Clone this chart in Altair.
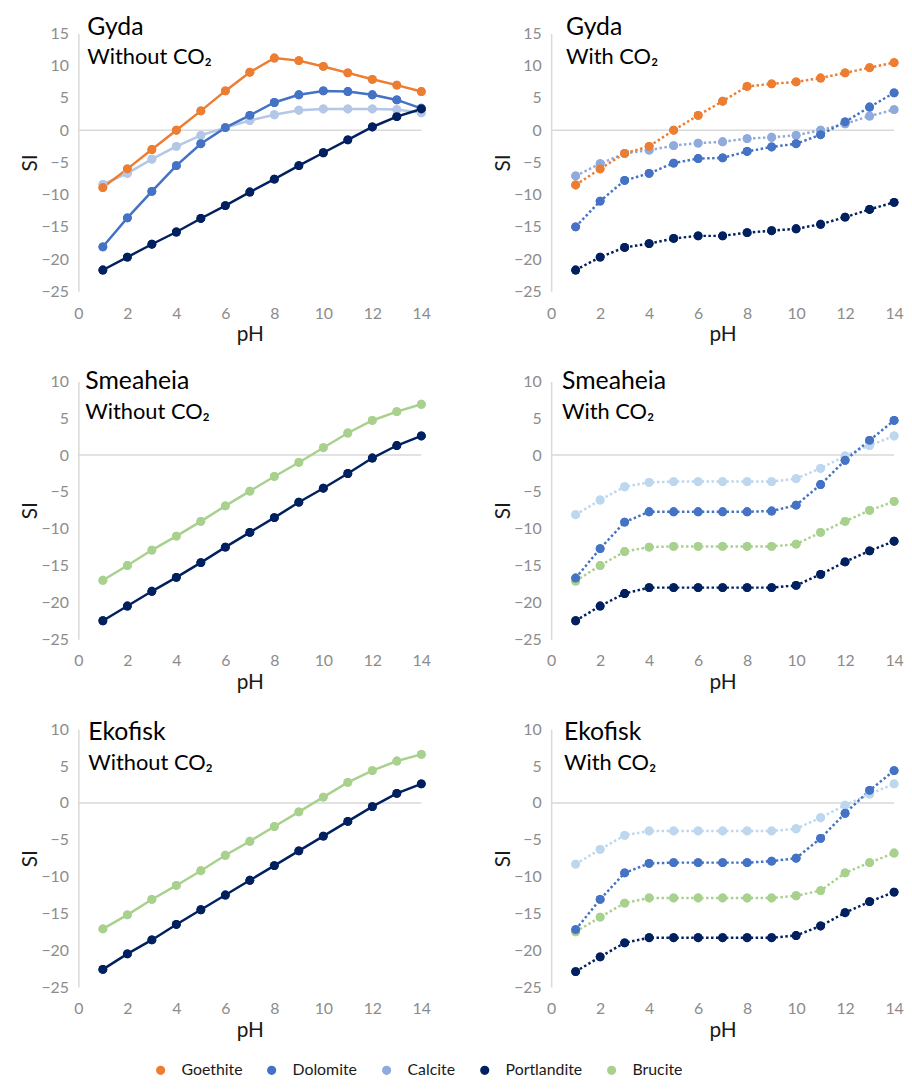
import altair as alt
import pandas as pd

ph = list(range(1, 15))

legend_names = ["Goethite", "Dolomite", "Calcite", "Portlandite", "Brucite"]
color_keys = ["Goethite", "Dolomite", "Calcite", "Portlandite", "Brucite", "Calcite_a", "Calcite_b"]
color_vals = ["#ED7D31", "#4472C4", "#8FAADC", "#002060", "#A9D18E", "#B4C7E7", "#BDD7EE"]

# Gyda - without CO2
gyda_wo_goethite = [-8.9, -6.0, -3.0, 0.0, 3.0, 6.1, 9.0, 11.2, 10.8, 9.9, 8.9, 7.9, 7.0, 6.0]
gyda_wo_dolomite = [-18.1, -13.6, -9.5, -5.5, -2.1, 0.4, 2.3, 4.3, 5.5, 6.1, 6.0, 5.5, 4.7, 3.4]
gyda_wo_calcite = [-8.4, -6.7, -4.5, -2.5, -0.8, 0.4, 1.5, 2.4, 3.1, 3.3, 3.3, 3.3, 3.2, 2.7]
gyda_wo_portlandite = [-21.7, -19.7, -17.7, -15.8, -13.7, -11.7, -9.6, -7.6, -5.5, -3.5, -1.5, 0.5, 2.1, 3.3]

# Gyda - with CO2
gyda_w_goethite = [-8.5, -6.0, -3.6, -2.5, 0.0, 2.3, 4.5, 6.8, 7.2, 7.5, 8.1, 8.9, 9.7, 10.5]
gyda_w_dolomite = [-15.0, -11.0, -7.8, -6.7, -5.1, -4.4, -4.3, -3.3, -2.6, -2.1, -0.7, 1.3, 3.6, 5.8]
gyda_w_calcite = [-7.1, -5.2, -3.6, -3.1, -2.4, -2.0, -1.8, -1.3, -1.1, -0.8, 0.0, 1.0, 2.2, 3.2]
gyda_w_portlandite = [-21.7, -19.7, -18.2, -17.6, -16.8, -16.4, -16.4, -15.9, -15.6, -15.3, -14.6, -13.5, -12.3, -11.2]

# Smeaheia - without CO2
smea_wo_brucite = [-17.0, -15.0, -12.9, -11.0, -9.0, -6.9, -4.9, -2.9, -1.0, 1.0, 3.0, 4.7, 5.9, 6.9]
smea_wo_portlandite = [-22.5, -20.5, -18.5, -16.6, -14.6, -12.5, -10.5, -8.5, -6.4, -4.5, -2.5, -0.4, 1.3, 2.6]

# Smeaheia - with CO2
smea_w_calcite = [-8.1, -6.1, -4.3, -3.7, -3.6, -3.6, -3.6, -3.6, -3.6, -3.2, -1.8, -0.1, 1.3, 2.6]
smea_w_dolomite = [-16.7, -12.7, -9.1, -7.7, -7.7, -7.7, -7.7, -7.7, -7.6, -6.8, -4.0, -0.7, 2.0, 4.7]
smea_w_brucite = [-17.1, -15.0, -13.1, -12.5, -12.4, -12.4, -12.4, -12.4, -12.4, -12.1, -10.5, -9.0, -7.5, -6.3]
smea_w_portlandite = [-22.5, -20.5, -18.8, -18.0, -18.0, -18.0, -18.0, -18.0, -18.0, -17.7, -16.2, -14.5, -13.0, -11.7]

# Ekofisk - without CO2
eko_wo_brucite = [-17.1, -15.2, -13.1, -11.2, -9.2, -7.1, -5.2, -3.2, -1.2, 0.8, 2.8, 4.4, 5.7, 6.6]
eko_wo_portlandite = [-22.6, -20.5, -18.6, -16.5, -14.5, -12.5, -10.5, -8.5, -6.5, -4.5, -2.5, -0.5, 1.3, 2.6]

# Ekofisk - with CO2
eko_w_calcite = [-8.3, -6.3, -4.4, -3.8, -3.8, -3.8, -3.8, -3.8, -3.8, -3.5, -2.0, -0.3, 1.2, 2.6]
eko_w_dolomite = [-17.2, -13.1, -9.5, -8.2, -8.1, -8.1, -8.1, -8.1, -7.9, -7.5, -4.8, -1.4, 1.7, 4.4]
eko_w_brucite = [-17.5, -15.5, -13.6, -12.9, -12.9, -12.9, -12.9, -12.9, -12.9, -12.6, -11.9, -9.5, -8.1, -6.8]
eko_w_portlandite = [-22.9, -20.9, -19.0, -18.3, -18.3, -18.3, -18.3, -18.3, -18.3, -18.0, -16.7, -14.9, -13.4, -12.1]

W = 346
H = 260
FONT = "Lato"

color_scale = alt.Scale(domain=color_keys, range=color_vals)
legend = alt.Legend(
    values=legend_names, orient="none", direction="horizontal", title=None,
    legendX=75, legendY=1038, symbolType="circle", symbolSize=60,
    labelFontSize=16, labelColor="#1a1a1a", labelOffset=13, columnPadding=21,
    padding=0, labelFont=FONT,
)


def make_panel(site, cond, series, dashed, ylo, yhi, tx, ty):
    rows = []
    for key, vals in series:
        for p, v in zip(ph, vals):
            rows.append({"pH": p, "SI": v, "key": key})
    df = pd.DataFrame(rows)
    xenc = alt.X(
        "pH:Q", scale=alt.Scale(domain=[0, 14], nice=False, zero=False),
        axis=alt.Axis(values=list(range(0, 15, 2)), title="pH", domain=False, ticks=False,
                      grid=False, labelPadding=14, titlePadding=3, labelFontSize=16,
                      labelFlush=False, labelColor="#8c8c8c", titleFontSize=21,
                      titleColor="#1a1a1a", titleFontWeight="normal",
                      labelFont=FONT, titleFont=FONT),
    )
    yenc = alt.Y(
        "SI:Q", scale=alt.Scale(domain=[ylo, yhi], nice=False),
        axis=alt.Axis(values=list(range(ylo, yhi + 1, 5)), title="SI", domain=True,
                      domainColor="#d9d9d9", domainWidth=1.5, ticks=False, grid=False,
                      labelPadding=10, titlePadding=0, labelFontSize=16, labelColor="#8c8c8c",
                      labelFlush=False, titleFontSize=21, titleColor="#1a1a1a",
                      titleFontWeight="normal", labelFont=FONT, titleFont=FONT),
    )
    cenc = alt.Color("key:N", scale=color_scale, legend=legend)
    line_kw = dict(strokeWidth=2.5)
    if dashed:
        line_kw["strokeDash"] = [2.5, 2.5]
    zero = alt.Chart(pd.DataFrame({"SI": [0]})).mark_rule(color="#d9d9d9", strokeWidth=1.5).encode(
        y=yenc, x=alt.value(0), x2=alt.value(W)
    )
    pts0 = alt.Chart(df).mark_circle(size=80, opacity=1).encode(x=xenc, y=yenc, color=cenc)
    lines = alt.Chart(df).mark_line(**line_kw).encode(x=xenc, y=yenc, color=cenc)
    pts = alt.Chart(df).mark_circle(size=80, opacity=1).encode(x=xenc, y=yenc, color=cenc)
    t1 = alt.Chart(pd.DataFrame({"t": [site]})).mark_text(
        align="left", baseline="alphabetic", fontSize=25, color="#000000", font=FONT
    ).encode(text="t:N", x=alt.value(tx), y=alt.value(ty))
    t2 = alt.Chart(pd.DataFrame({"t": [cond]})).mark_text(
        align="left", baseline="alphabetic", fontSize=22, color="#000000", font=FONT
    ).encode(text="t:N", x=alt.value(tx), y=alt.value(ty + 30))
    return alt.layer(zero, pts0, lines, pts, t1, t2).properties(width=W, height=H)


p1 = make_panel("Gyda", "Without CO₂",
                [("Calcite_a", gyda_wo_calcite), ("Dolomite", gyda_wo_dolomite),
                 ("Goethite", gyda_wo_goethite), ("Portlandite", gyda_wo_portlandite)],
                False, -25, 15, 9, 1)
p2 = make_panel("Gyda", "With CO₂",
                [("Calcite", gyda_w_calcite), ("Dolomite", gyda_w_dolomite),
                 ("Goethite", gyda_w_goethite), ("Portlandite", gyda_w_portlandite)],
                True, -25, 15, 15, 1)
p3 = make_panel("Smeaheia", "Without CO₂",
                [("Brucite", smea_wo_brucite), ("Portlandite", smea_wo_portlandite)],
                False, -25, 10, 7, 8)
p4 = make_panel("Smeaheia", "With CO₂",
                [("Calcite_b", smea_w_calcite), ("Brucite", smea_w_brucite),
                 ("Dolomite", smea_w_dolomite), ("Portlandite", smea_w_portlandite)],
                True, -25, 10, 11, 8)
p5 = make_panel("Ekofisk", "Without CO₂",
                [("Brucite", eko_wo_brucite), ("Portlandite", eko_wo_portlandite)],
                False, -25, 10, 10, 11)
p6 = make_panel("Ekofisk", "With CO₂",
                [("Calcite_b", eko_w_calcite), ("Brucite", eko_w_brucite),
                 ("Dolomite", eko_w_dolomite), ("Portlandite", eko_w_portlandite)],
                True, -25, 10, 13, 11)

chart = alt.concat(
    p1, p2, p3, p4, p5, p6, columns=2,
    spacing=alt.RowColnumber(row=91, column=131), bounds="flush",
).properties(
    padding={"left": 12, "top": 2, "right": 0, "bottom": 0}
).configure(font=FONT).configure_view(stroke=None)

chart.save("out.html", embed_options={"renderer": "svg", "actions": False})
